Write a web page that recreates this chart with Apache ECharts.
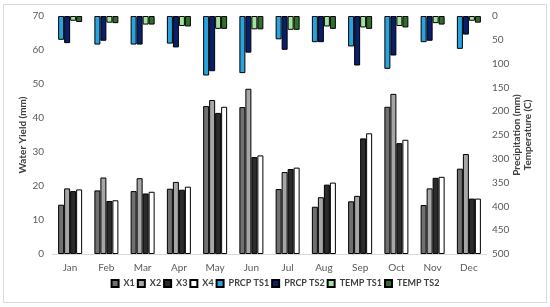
<!DOCTYPE html>
<html>
<head>
<meta charset="utf-8">
<script src="https://cdn.jsdelivr.net/npm/echarts@6/dist/echarts.min.js"></script>
<style>html,body{margin:0;padding:0;background:#fff}#c{width:550px;height:307px}</style>
</head>
<body>
<div id="c"></div>
<script>
var months = ['Jan','Feb','Mar','Apr','May','Jun','Jul','Aug','Sep','Oct','Nov','Dec'];
var X1 = [14.5, 18.7, 18.5, 19.2, 43.5, 43.2, 19.1, 13.9, 15.5, 43.3, 14.4, 25.1];
var X2 = [19.3, 22.5, 22.3, 21.2, 45.3, 48.6, 24.1, 16.7, 17.1, 47.1, 19.3, 29.4];
var X3 = [18.5, 15.6, 17.8, 18.9, 41.5, 28.5, 25.0, 20.4, 34.0, 32.6, 22.4, 16.3];
var X4 = [19.0, 15.8, 18.3, 19.8, 43.3, 29.0, 25.4, 21.0, 35.5, 33.6, 22.7, 16.3];
var PRCP_TS1 = [50, 60, 60, 58, 125, 120, 49, 55, 64, 111, 55, 69];
var PRCP_TS2 = [57, 52, 60, 66, 116, 77, 71, 55, 104, 83, 52, 39];
var TEMP_TS1 = [10, 14, 18, 21, 27, 28, 29, 22, 24, 21, 15, 10];
var TEMP_TS2 = [12.6, 15, 18, 22, 27, 28, 29, 27, 27, 24, 18, 14];
var leftTicks = {min: 0, max: 70, interval: 10};
var rightTicks = {min: 0, max: 500, interval: 50};

var FONT = 'Lato';
var chart = echarts.init(document.getElementById('c'), null, {renderer: 'canvas'});

function bar(name, data, color, xi, yi) {
  return {
    name: name, type: 'bar', data: data, xAxisIndex: xi, yAxisIndex: yi,
    barWidth: 6, barGap: '0%',
    itemStyle: {color: color, borderColor: '#000', borderWidth: 1},
    emphasis: {disabled: true}, animation: false
  };
}

chart.setOption({
  animation: false,
  textStyle: {fontFamily: FONT},
  graphic: [{
    type: 'rect', shape: {x: 3.5, y: 4.5, width: 543, height: 298},
    style: {fill: 'none', stroke: '#d9d9d9', lineWidth: 1}, silent: true, z: -1
  }],
  grid: {left: 52, right: 63, top: 16, bottom: 53},
  legend: {
    bottom: 14, left: 'center', itemWidth: 7, itemHeight: 7, itemGap: 2,
    icon: 'rect',
    textStyle: {fontFamily: FONT, fontSize: 9, fontWeight: 'bold', color: '#404040'},
    data: ['X1','X2','X3','X4','PRCP TS1','PRCP TS2','TEMP TS1','TEMP TS2']
  },
  xAxis: [{
    type: 'category', data: months, position: 'bottom',
    axisLine: {lineStyle: {color: '#d9d9d9'}}, axisTick: {show: false},
    axisLabel: {color: '#595959', fontSize: 10, fontFamily: FONT, margin: 9}
  }, {
    type: 'category', data: months, show: false, position: 'bottom'
  }],
  yAxis: [{
    type: 'value', min: leftTicks.min, max: leftTicks.max, interval: leftTicks.interval,
    name: 'Water Yield (mm)', nameLocation: 'middle', nameGap: 24, nameRotate: 90,
    nameMoveOverlap: false,
    nameTextStyle: {fontFamily: FONT, fontSize: 10, fontWeight: 'bold', color: '#404040'},
    axisLine: {show: false}, axisTick: {show: false}, splitLine: {show: false},
    axisLabel: {color: '#595959', fontSize: 10, fontFamily: FONT, margin: 8}
  }, {
    type: 'value', min: rightTicks.min, max: rightTicks.max, interval: rightTicks.interval,
    inverse: true, position: 'right',
    name: 'Precipitation (mm)\nTemperature (C)', nameLocation: 'middle', nameGap: 24, nameRotate: 90,
    nameMoveOverlap: false,
    nameTextStyle: {fontFamily: FONT, fontSize: 10, fontWeight: 'bold', color: '#404040', lineHeight: 11},
    axisLine: {show: false}, axisTick: {show: false}, splitLine: {show: false},
    axisLabel: {color: '#595959', fontSize: 10, fontFamily: FONT, margin: 5}
  }],
  series: [
    bar('X1', X1, '#707070', 0, 0),
    bar('X2', X2, '#a6a6a6', 0, 0),
    bar('X3', X3, '#2b2b2b', 0, 0),
    bar('X4', X4, '#ffffff', 0, 0),
    bar('PRCP TS1', PRCP_TS1, '#29a3dd', 1, 1),
    bar('PRCP TS2', PRCP_TS2, '#0a1f6b', 1, 1),
    bar('TEMP TS1', TEMP_TS1, '#a0e39a', 1, 1),
    bar('TEMP TS2', TEMP_TS2, '#2f6e2b', 1, 1)
  ]
});
</script>
</body>
</html>
